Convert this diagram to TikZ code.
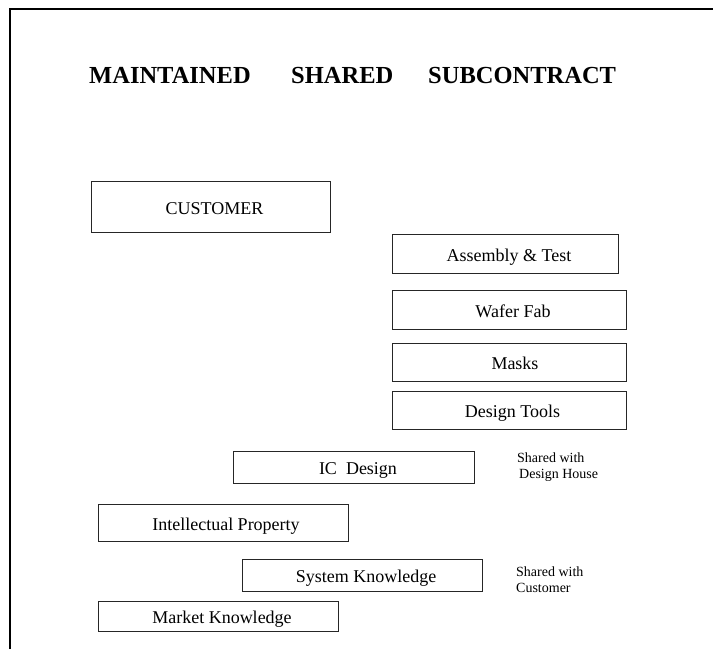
\documentclass[tikz,border=0pt]{standalone}
\usepackage{fontspec}
\setmainfont{Liberation Serif}
\begin{document}
\begin{tikzpicture}[x=1pt,y=-1pt,
  box/.style={draw=black!85,line width=1pt,inner sep=0pt,
    font=\fontsize{18}{20}\selectfont,text height=15.5pt,text depth=0.5pt},
  head/.style={anchor=base west,inner sep=0pt,font=\fontsize{24.5}{28}\selectfont\bfseries},
  note/.style={anchor=north west,inner sep=0pt,align=left,
    font=\fontsize{14}{16}\selectfont}]
\useasboundingbox (0,0) rectangle (713,649);

% page frame (left and top edges only)
\draw[line width=2.5pt] (10,649) -- (10,9) -- (713,9);

% column headings
\node[head] (hmaint) at (89,83) {MAINTAINED};
\node[head] (hshared) at (291,83) {SHARED};
\node[head] (hsub) at (428,83) {SUBCONTRACT};

% activity boxes
\node[box,minimum width=239,minimum height=51] (customer) at (210.5,206.5) {\hspace*{8pt}CUSTOMER};
\node[box,minimum width=226,minimum height=39] (assembly) at (505,253.5) {\hspace*{8pt}Assembly \& Test};
\node[box,minimum width=234,minimum height=39] (wafer) at (509,309.5) {\hspace*{8pt}Wafer Fab};
\node[box,minimum width=234,minimum height=38] (masks) at (509,362) {\hspace*{12pt}Masks};
\node[box,minimum width=234,minimum height=38] (tools) at (509,410) {\hspace*{7pt}Design Tools};
\node[box,minimum width=241,minimum height=32] (icdesign) at (353.5,467) {\hspace*{9pt}IC\ \ Design};
\node[box,minimum width=250,minimum height=37] (ip) at (223,522.5) {\hspace*{6pt}Intellectual Property};
\node[box,minimum width=240,minimum height=32] (sysknow) at (362,575) {\hspace*{8pt}System Knowledge};
\node[box,minimum width=240,minimum height=30] (market) at (218,616) {\hspace*{8pt}Market Knowledge};

% side notes
\node[note] (notedh) at (517,453) {Shared with\\\hspace*{2pt}Design House};
\node[note] (notecu) at (516,567) {Shared with\\Customer};
\end{tikzpicture}
\end{document}
